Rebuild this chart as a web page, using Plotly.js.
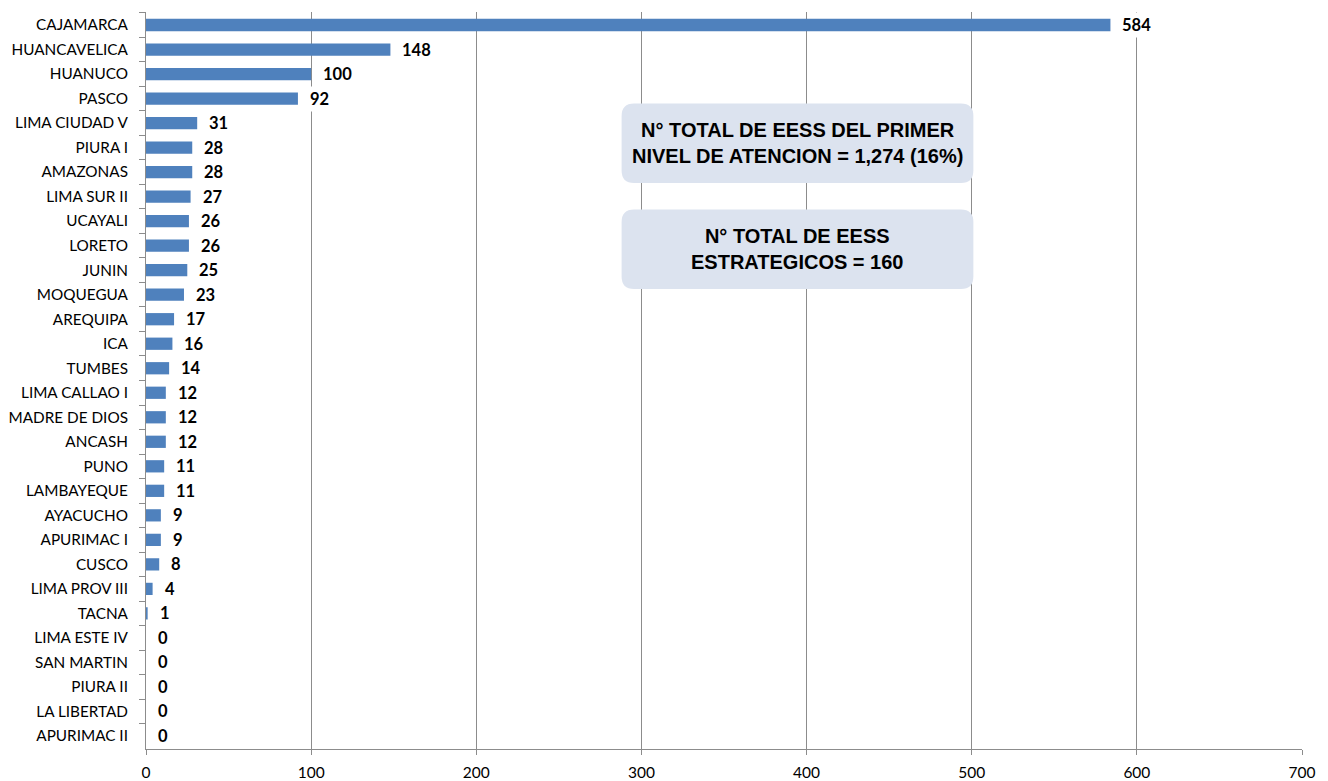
<!DOCTYPE html>
<html>
<head>
<meta charset="utf-8">
<script src="https://cdn.plot.ly/plotly-3.0.1.min.js"></script>
<style>
  html, body { margin: 0; padding: 0; background: #fff; }
  #chart { width: 1328px; height: 781px; }
</style>
</head>
<body>
<div id="chart"></div>
<script>
// Establecimientos de salud estratégicos por región
const regiones = [
  "CAJAMARCA", "HUANCAVELICA", "HUANUCO", "PASCO", "LIMA CIUDAD V",
  "PIURA I", "AMAZONAS", "LIMA SUR II", "UCAYALI", "LORETO",
  "JUNIN", "MOQUEGUA", "AREQUIPA", "ICA", "TUMBES",
  "LIMA CALLAO I", "MADRE DE DIOS", "ANCASH", "PUNO", "LAMBAYEQUE",
  "AYACUCHO", "APURIMAC I", "CUSCO", "LIMA PROV III", "TACNA",
  "LIMA ESTE IV", "SAN MARTIN", "PIURA II", "LA LIBERTAD", "APURIMAC II"
];
const establecimientos = [
  584, 148, 100, 92, 31,
  28, 28, 27, 26, 26,
  25, 23, 17, 16, 14,
  12, 12, 12, 11, 11,
  9, 9, 8, 4, 1,
  0, 0, 0, 0, 0
];
const xTicks = [0, 100, 200, 300, 400, 500, 600, 700];
const cuadros = [
  "N° TOTAL DE EESS DEL PRIMER<br>NIVEL DE ATENCION = 1,274 (16%)",
  "N° TOTAL DE EESS<br>ESTRATEGICOS = 160"
];

const baseFont = "Lato, 'Open Sans', sans-serif";

// Rounded rectangle path: x in data units, y in paper units
function roundRect(x0, x1, y0, y1, rx, ry) {
  return `M ${x0 + rx} ${y1} L ${x1 - rx} ${y1} Q ${x1} ${y1} ${x1} ${y1 - ry} ` +
         `L ${x1} ${y0 + ry} Q ${x1} ${y0} ${x1 - rx} ${y0} ` +
         `L ${x0 + rx} ${y0} Q ${x0} ${y0} ${x0} ${y0 + ry} ` +
         `L ${x0} ${y1 - ry} Q ${x0} ${y1} ${x0 + rx} ${y1} Z`;
}

const trace = {
  type: "bar",
  orientation: "h",
  x: establecimientos,
  y: regiones,
  marker: { color: "#4f81bd" },
  hoverinfo: "x+y"
};

// Value labels placed to the right of each bar
const valueLabels = regiones.map((r, i) => ({
  x: establecimientos[i],
  y: r,
  xref: "x",
  yref: "y",
  text: "<b>" + establecimientos[i] + "</b>",
  showarrow: false,
  xanchor: "left",
  xshift: 9,
  bgcolor: "#fff",
  borderpad: 2,
  font: { family: baseFont, size: 16.5, color: "#000" }
}));

const boxes = [
  { x0: 288, x1: 501, y0: 0.768, y1: 0.876 },
  { x0: 288, x1: 501, y0: 0.624, y1: 0.732 }
];

const boxShapes = boxes.map(b => ({
  type: "path",
  xref: "x",
  yref: "paper",
  path: roundRect(b.x0, b.x1, b.y0, b.y1, 7.5, 0.017),
  fillcolor: "#dce3ef",
  line: { width: 0 },
  layer: "above"
}));

const boxText = boxes.map((b, i) => ({
  x: (b.x0 + b.x1) / 2,
  y: (b.y0 + b.y1) / 2,
  xref: "x",
  yref: "paper",
  text: "<b>" + cuadros[i] + "</b>",
  showarrow: false,
  xanchor: "center",
  yanchor: "middle",
  align: "center",
  font: { family: "'Liberation Sans', Arial, sans-serif", size: 20, color: "#000" }
}));

const layout = {
  width: 1328,
  height: 781,
  margin: { l: 146, r: 26, t: 12, b: 32 },
  paper_bgcolor: "#fff",
  plot_bgcolor: "#fff",
  showlegend: false,
  bargap: 0.5,
  xaxis: {
    range: [0, 700],
    tickvals: xTicks,
    ticktext: xTicks.map(String),
    showgrid: true,
    gridcolor: "#8c8c8c",
    gridwidth: 1,
    zeroline: false,
    showline: true,
    linecolor: "#8c8c8c",
    ticks: "outside",
    ticklen: 5,
    tickcolor: "#8c8c8c",
    ticklabelstandoff: 4,
    tickfont: { family: baseFont, size: 15.5, color: "#000" },
    fixedrange: true
  },
  yaxis: {
    type: "category",
    autorange: "reversed",
    showgrid: false,
    zeroline: false,
    showline: true,
    linecolor: "#8c8c8c",
    ticks: "outside",
    tickson: "boundaries",
    ticklen: 6,
    tickcolor: "#8c8c8c",
    ticklabelstandoff: 14,
    tickfont: { family: baseFont, size: 15.3, color: "#000" },
    fixedrange: true
  },
  shapes: boxShapes,
  annotations: valueLabels.concat(boxText)
};

Plotly.newPlot("chart", [trace], layout, { displayModeBar: false, staticPlot: true });
</script>
</body>
</html>
